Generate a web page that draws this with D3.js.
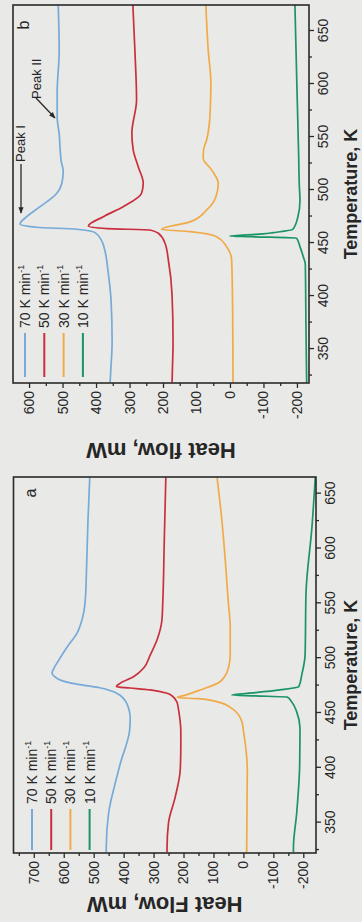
<!DOCTYPE html>
<html>
<head>
<meta charset="utf-8">
<script src="https://cdn.jsdelivr.net/npm/d3@7"></script>
<style>
  html, body { margin: 0; padding: 0; background: #e9e9e7; }
  svg { display: block; }
  text { font-family: "Liberation Sans", Arial, sans-serif; fill: #262626; }
</style>
</head>
<body>
<svg id="chart" width="362" height="922"></svg>
<script>
// Heating rates (K min^-1) and their colours
const rates = ["70", "50", "30", "10"];
const rateColors = ["#76aad8", "#c92f3c", "#f0aa48", "#1b9466"];

// Tick values
const tempTicks = [350, 400, 450, 500, 550, 600, 650];
const heatTicksA = [-200, -100, 0, 100, 200, 300, 400, 500, 600, 700];
const heatTicksB = [-200, -100, 0, 100, 200, 300, 400, 500, 600];

// Panel a: [temperature K, heat flow mW]
const a70 = [[323,458],[327,458],[359,450],[386,428],[404,411],[434,380],[445,378],[452,381],[460,392],[466,411],[470,440],[473,480],[475,525],[477.5,578],[480,611],[483.5,632],[486.5,639],[490,634],[498,617],[510,589],[523,555],[535,539],[553,528],[580,524],[626,519],[665,513]];
const a50 = [[323,255],[327,255],[350,250],[373,228],[398,211],[420,209],[434,209],[442,211],[452,216],[460,222],[465,236],[468,255],[471,311],[472.8,378],[474,424],[477,412],[483,367],[491,333],[503,311],[517,288],[535,272],[553,269],[610,264],[665,259]];
const a30 = [[323,-11],[327,-11],[398,-13],[434,0],[442,5],[453,33],[460.3,89],[463,150],[464,221],[466,196],[471,144],[478.5,78],[491,50],[503,44],[528,44],[553,51],[580,58],[626,72],[665,88]];
const a10 = [[323,-167],[327,-167],[359,-178],[404,-188],[436,-189],[451,-178],[460.3,-161],[464.5,-146],[465.6,-40],[466.4,39],[468.5,-40],[471,-122],[474,-185],[485,-195],[503,-206],[559,-209],[620,-229],[665,-240]];

// Panel b: [temperature K, heat flow mW]
const b70 = [[318.5,358],[330,356],[357,352],[395,355],[423,364],[442,373],[452,383],[459.8,403],[463,458],[464.9,577],[468,627],[474.9,607],[484.3,567],[497,517],[506.4,502],[518,498],[527,504],[537,507],[553,510],[568,516],[593,516],[631,510],[674.5,513]];
const b50 = [[318.5,173],[330,172],[357,170],[401,173],[434,184],[449.8,194],[459.2,214],[462.3,239],[463.6,368],[466,423],[474.9,378],[484.3,319],[497,264],[506.4,259],[522,274],[537.8,289],[553.8,293],[584.9,279],[632,284],[674.5,290]];
const b30 = [[318.5,-9],[385,-8],[434,-5],[446.6,10],[456,40],[460.7,119],[463,204],[470,119],[481,70],[493.7,42],[506.4,35],[519,55],[530,80],[537.8,79],[547,70],[569,60],[600.7,57],[632,65],[674.5,72]];
const b10 = [[318.5,-229],[369,-227],[430,-225],[437,-219],[446.6,-209],[454.6,-199],[456,-60],[456.7,0],[458.6,-99],[459.8,-129],[463,-188],[475,-203],[490,-209],[505,-207],[534,-205],[596,-200],[674.5,-194]];

// The figure is laid out in landscape (width 922, height 362) and turned a quarter turn.
const W = 922;
const svg = d3.select("#chart");
svg.append("rect").attr("width", 362).attr("height", 922).attr("fill", "#e9e9e7");

const defs = svg.append("defs");
defs.append("marker")
  .attr("id", "arrow")
  .attr("viewBox", "0 0 10 10")
  .attr("refX", 9).attr("refY", 5)
  .attr("markerWidth", 5).attr("markerHeight", 5)
  .attr("orient", "auto")
  .append("path").attr("d", "M0,1 L10,5 L0,9 z").attr("fill", "#2a2a2a");

const root = svg.append("g").attr("transform", `translate(0,${W}) rotate(-90)`);

const panels = [
  {
    key: "a", box: { x0: 69, x1: 445, y0: 13.5, y1: 316 },
    tDomain: [322.3, 665.2], hDomain: [-242.4, 767.7], hTicks: heatTicksA,
    series: [a70, a50, a30, a10], heatTitle: "Heat Flow, mW", heatTitleOff: 44,
    legend: { x: 72, y: 32, len: 41, dy: 19.2 }, tag: { x: 429, y: 30 }
  },
  {
    key: "b", box: { x0: 539, x1: 917, y0: 13, y1: 309 },
    tDomain: [318, 674.5], hDomain: [-236, 648], hTicks: heatTicksB,
    series: [b70, b50, b30, b10], heatTitle: "Heat flow, mW", heatTitleOff: 60,
    legend: { x: 545, y: 25, len: 44, dy: 19.3 }, tag: { x: 897, y: 23 }
  }
];

panels.forEach(p => {
  const { x0, x1, y0, y1 } = p.box;
  const x = d3.scaleLinear().domain(p.tDomain).range([x0, x1]);
  const y = d3.scaleLinear().domain(p.hDomain).range([y1, y0]);
  const g = root.append("g").attr("class", "panel-" + p.key);

  const clipId = "clip-" + p.key;
  defs.append("clipPath").attr("id", clipId)
    .append("rect").attr("x", x0).attr("y", y0).attr("width", x1 - x0).attr("height", y1 - y0);

  // curves
  const line = d3.line().x(d => x(d[0])).y(d => y(d[1])).curve(d3.curveMonotoneX);
  g.append("g").attr("clip-path", `url(#${clipId})`)
    .selectAll("path").data(p.series).join("path")
    .attr("d", line)
    .attr("fill", "none")
    .attr("stroke", (d, i) => rateColors[i])
    .attr("stroke-width", 1.7)
    .attr("stroke-linejoin", "round");

  // heat flow axis
  const minorH = d3.range(Math.ceil(p.hDomain[0] / 50) * 50, p.hDomain[1], 50).filter(v => v % 100 !== 0);
  const yAxis = g.append("g").attr("transform", `translate(${x0},0)`)
    .call(d3.axisLeft(y).tickValues(p.hTicks).tickSize(5).tickPadding(3).tickFormat(d => String(d)));
  g.append("g").attr("transform", `translate(${x0},0)`)
    .call(d3.axisLeft(y).tickValues(minorH).tickSize(3).tickFormat(""));

  // temperature axis
  const minorT = d3.range(325, p.tDomain[1], 50);
  const xAxis = g.append("g").attr("transform", `translate(0,${y1})`)
    .call(d3.axisBottom(x).tickValues(tempTicks).tickSize(5).tickPadding(4).tickFormat(d => String(d)));
  g.append("g").attr("transform", `translate(0,${y1})`)
    .call(d3.axisBottom(x).tickValues(minorT).tickSize(3).tickFormat(""));

  g.selectAll(".domain").remove();
  g.selectAll(".tick line").attr("stroke", "#2a2a2a").attr("stroke-width", 1.3);
  [yAxis, xAxis].forEach(a => {
    a.attr("font-size", null).attr("font-family", null);
    a.selectAll("text").attr("font-size", 14).style("fill", "#262626");
  });

  // frame
  g.append("rect")
    .attr("x", x0).attr("y", y0).attr("width", x1 - x0).attr("height", y1 - y0)
    .attr("fill", "none").attr("stroke", "#2a2a2a").attr("stroke-width", 1.6);

  // axis titles
  g.append("text")
    .attr("x", (x0 + x1) / 2).attr("y", 356.5)
    .attr("text-anchor", "middle").attr("font-size", 18).attr("font-weight", "bold")
    .text("Temperature, K");
  g.append("text")
    .attr("transform", `translate(${x0 - p.heatTitleOff},${(y0 + y1) / 2}) rotate(-90)`)
    .attr("text-anchor", "middle").attr("font-size", 22).attr("font-weight", "bold")
    .text(p.heatTitle);

  // legend
  const lg = g.append("g");
  rates.forEach((r, i) => {
    const ly = p.legend.y + i * p.legend.dy;
    lg.append("line")
      .attr("x1", p.legend.x).attr("x2", p.legend.x + p.legend.len)
      .attr("y1", ly).attr("y2", ly)
      .attr("stroke", rateColors[i]).attr("stroke-width", 2);
    const t = lg.append("text")
      .attr("x", p.legend.x + p.legend.len + 5).attr("y", ly + 5)
      .attr("font-size", 14);
    t.append("tspan").text(r + " K min");
    t.append("tspan").attr("font-size", 9).attr("dy", -6).text("-1");
  });

  // panel tag
  g.append("text")
    .attr("x", p.tag.x).attr("y", p.tag.y + 6)
    .attr("text-anchor", "middle").attr("font-size", 16)
    .text(p.key);

  if (p.key === "b") {
    // Peak I: arrow pointing at the main endotherm of the 70 K min^-1 trace
    g.append("text").attr("x", 760).attr("y", 24.5).attr("font-size", 13).text("Peak I");
    g.append("line")
      .attr("x1", 758).attr("y1", 21).attr("x2", 709).attr("y2", 21)
      .attr("stroke", "#2a2a2a").attr("stroke-width", 1.3)
      .attr("marker-end", "url(#arrow)");
    // Peak II: shoulder of the same trace
    g.append("text").attr("x", 823).attr("y", 40.5).attr("font-size", 13).text("Peak II");
    g.append("line")
      .attr("x1", 824).attr("y1", 36).attr("x2", 804).attr("y2", 55)
      .attr("stroke", "#2a2a2a").attr("stroke-width", 1.3)
      .attr("marker-end", "url(#arrow)");
  }
});
</script>
</body>
</html>
